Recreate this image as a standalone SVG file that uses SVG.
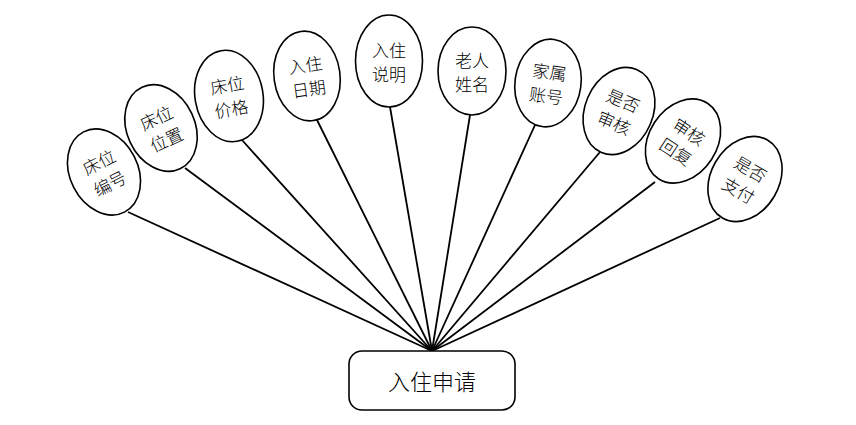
<svg xmlns="http://www.w3.org/2000/svg" width="856" height="425" viewBox="0 0 856 425">
<style>
.e{fill:#fff;stroke:#000;stroke-width:1.6}
.t{font-family:"Noto Sans CJK SC","Noto Sans",sans-serif;font-size:17px;font-weight:300;fill:#000;text-anchor:middle;dominant-baseline:central}
.c{stroke:#000;stroke-width:1.8;fill:none}
.m{font-family:"Noto Sans CJK SC","Noto Sans",sans-serif;font-size:22px;font-weight:300;fill:#000;text-anchor:middle;dominant-baseline:central}
</style>
<rect width="856" height="425" fill="#fff"/>
<g id="connectors">
<line class="c" x1="128" y1="212" x2="432" y2="351"/>
<line class="c" x1="185" y1="168" x2="432" y2="351"/>
<line class="c" x1="242" y1="140" x2="432" y2="351"/>
<line class="c" x1="317" y1="120" x2="432" y2="351"/>
<line class="c" x1="390" y1="107" x2="432" y2="351"/>
<line class="c" x1="470" y1="115" x2="432" y2="351"/>
<line class="c" x1="535" y1="125" x2="432" y2="351"/>
<line class="c" x1="600" y1="152" x2="432" y2="351"/>
<line class="c" x1="655" y1="182" x2="432" y2="351"/>
<line class="c" x1="720" y1="218" x2="432" y2="351"/>
</g>
<g id="n1" transform="translate(104,172) rotate(-27)"><ellipse class="e" rx="34" ry="45"/><text class="t" y="-12">床位</text><text class="t" y="12">编号</text></g>
<g id="n2" transform="translate(161,128) rotate(-25)"><ellipse class="e" rx="34" ry="45"/><text class="t" y="-12">床位</text><text class="t" y="12">位置</text></g>
<g id="n3" transform="translate(229,96) rotate(-10)"><ellipse class="e" rx="34" ry="46"/><text class="t" y="-12">床位</text><text class="t" y="12">价格</text></g>
<g id="n4" transform="translate(307,76) rotate(-8)"><ellipse class="e" rx="33" ry="45"/><text class="t" y="-12">入住</text><text class="t" y="12">日期</text></g>
<g id="n5" transform="translate(389,61)"><ellipse class="e" rx="33.5" ry="46"/><text class="t" y="-12">入住</text><text class="t" y="12">说明</text></g>
<g id="n6" transform="translate(472,71)"><ellipse class="e" rx="34" ry="44"/><text class="t" y="-12">老人</text><text class="t" y="12">姓名</text></g>
<g id="n7" transform="translate(548,83) rotate(8)"><ellipse class="e" rx="33" ry="44"/><text class="t" y="-12">家属</text><text class="t" y="12">账号</text></g>
<g id="n8" transform="translate(619,111) rotate(23)"><ellipse class="e" rx="34" ry="45"/><text class="t" y="-12">是否</text><text class="t" y="12">审核</text></g>
<g id="n9" transform="translate(683,141) rotate(33)"><ellipse class="e" rx="34" ry="45"/><text class="t" y="-12">审核</text><text class="t" y="12">回复</text></g>
<g id="n10" transform="translate(745,179) rotate(30)"><ellipse class="e" rx="34" ry="45"/><text class="t" y="-12">是否</text><text class="t" y="12">支付</text></g>
<g id="main"><rect class="e" x="349" y="351" width="166" height="59" rx="13"/><text class="m" x="432" y="380">入住申请</text></g>
</svg>
